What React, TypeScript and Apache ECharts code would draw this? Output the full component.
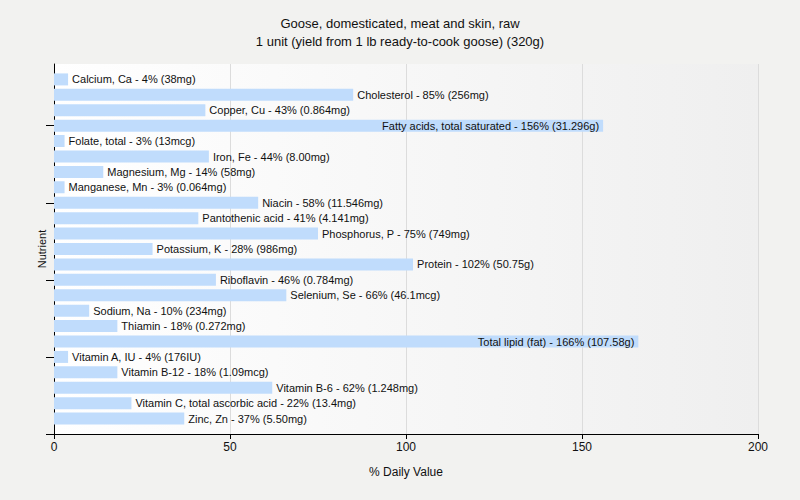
import React, { useEffect, useRef } from "react";
import * as echarts from "echarts";

const titleLines = [
  "Goose, domesticated, meat and skin, raw",
  "1 unit (yield from 1 lb ready-to-cook goose) (320g)",
];

const nutrients = [
  "Calcium, Ca",
  "Cholesterol",
  "Copper, Cu",
  "Fatty acids, total saturated",
  "Folate, total",
  "Iron, Fe",
  "Magnesium, Mg",
  "Manganese, Mn",
  "Niacin",
  "Pantothenic acid",
  "Phosphorus, P",
  "Potassium, K",
  "Protein",
  "Riboflavin",
  "Selenium, Se",
  "Sodium, Na",
  "Thiamin",
  "Total lipid (fat)",
  "Vitamin A, IU",
  "Vitamin B-12",
  "Vitamin B-6",
  "Vitamin C, total ascorbic acid",
  "Zinc, Zn",
];

const percentDV = [4, 85, 43, 156, 3, 44, 14, 3, 58, 41, 75, 28, 102, 46, 66, 10, 18, 166, 4, 18, 62, 22, 37];

const amounts = [
  "38mg", "256mg", "0.864mg", "31.296g", "13mcg", "8.00mg", "58mg", "0.064mg",
  "11.546mg", "4.141mg", "749mg", "986mg", "50.75g", "0.784mg", "46.1mcg", "234mg",
  "0.272mg", "107.58g", "176IU", "1.09mcg", "1.248mg", "13.4mg", "5.50mg",
];

const xTicks = [0, 50, 100, 150, 200];

const FONT = "Liberation Sans";

export default function App() {
  const ref = useRef<HTMLDivElement>(null);

  useEffect(() => {
    if (!ref.current) return;
    const chart = echarts.init(ref.current, null, { renderer: "svg" });

    const cats = ["", ...nutrients, ""];
    const total = cats.length - 1; // 24
    const data: any[] = [{ value: "-" }];
    nutrients.forEach((n, i) => {
      const v = percentDV[i];
      const inside = v > 140;
      data.push({
        value: v,
        label: {
          show: true,
          position: inside ? "insideRight" : "right",
          distance: 4,
          formatter: `${n} - ${v}% (${amounts[i]})`,
        },
      });
    });
    data.push({ value: "-" });

    chart.setOption({
      animation: false,
      backgroundColor: "#f2f2f0",
      textStyle: { fontFamily: FONT },
      title: {
        text: titleLines.join("\n"),
        left: "center",
        top: 9,
        textStyle: {
          fontFamily: FONT,
          fontSize: 13,
          fontWeight: "normal",
          color: "#111",
          lineHeight: 18,
        },
      },
      grid: {
        left: 54,
        right: 42,
        top: 64,
        bottom: 66,
        show: true,
        borderWidth: 0,
        backgroundColor: new echarts.graphic.LinearGradient(0, 0, 1, 0, [
          { offset: 0, color: "#ffffff" },
          { offset: 1, color: "#efefef" },
        ]),
      },
      xAxis: {
        type: "value",
        min: xTicks[0],
        max: xTicks[xTicks.length - 1],
        interval: 50,
        name: "% Daily Value",
        nameLocation: "middle",
        nameGap: 32,
        nameTextStyle: { fontFamily: FONT, fontSize: 12, color: "#111" },
        axisLine: { show: true, lineStyle: { color: "#000", width: 1 } },
        axisTick: { show: true, length: 5, lineStyle: { color: "#000" } },
        axisLabel: { fontFamily: FONT, fontSize: 12, color: "#111", margin: 7 },
        splitLine: { show: true, lineStyle: { color: "#dcdcdc", width: 1 } },
      },
      yAxis: {
        type: "category",
        data: cats,
        inverse: true,
        boundaryGap: false,
        name: "Nutrient",
        nameLocation: "middle",
        nameRotate: 90,
        nameGap: 7,
        nameTextStyle: { fontFamily: FONT, fontSize: 11, color: "#111" },
        axisLine: { show: true, onZero: false, lineStyle: { color: "#000", width: 1 } },
        axisTick: {
          show: true,
          length: 8,
          interval: (index: number) => (total - index) % 5 === 0,
          lineStyle: { color: "#000" },
        },
        axisLabel: { show: false },
        splitLine: { show: false },
      },
      series: [
        {
          type: "bar",
          data,
          barWidth: 12,
          itemStyle: { color: "#c0dcfc" },
          label: {
            show: true,
            fontFamily: FONT,
            fontSize: 11,
            color: "#111",
          },
        },
      ],
    });

    return () => chart.dispose();
  }, []);

  return <div ref={ref} style={{ width: 800, height: 500, position: "absolute", left: 0, top: 0 }} />;
}
